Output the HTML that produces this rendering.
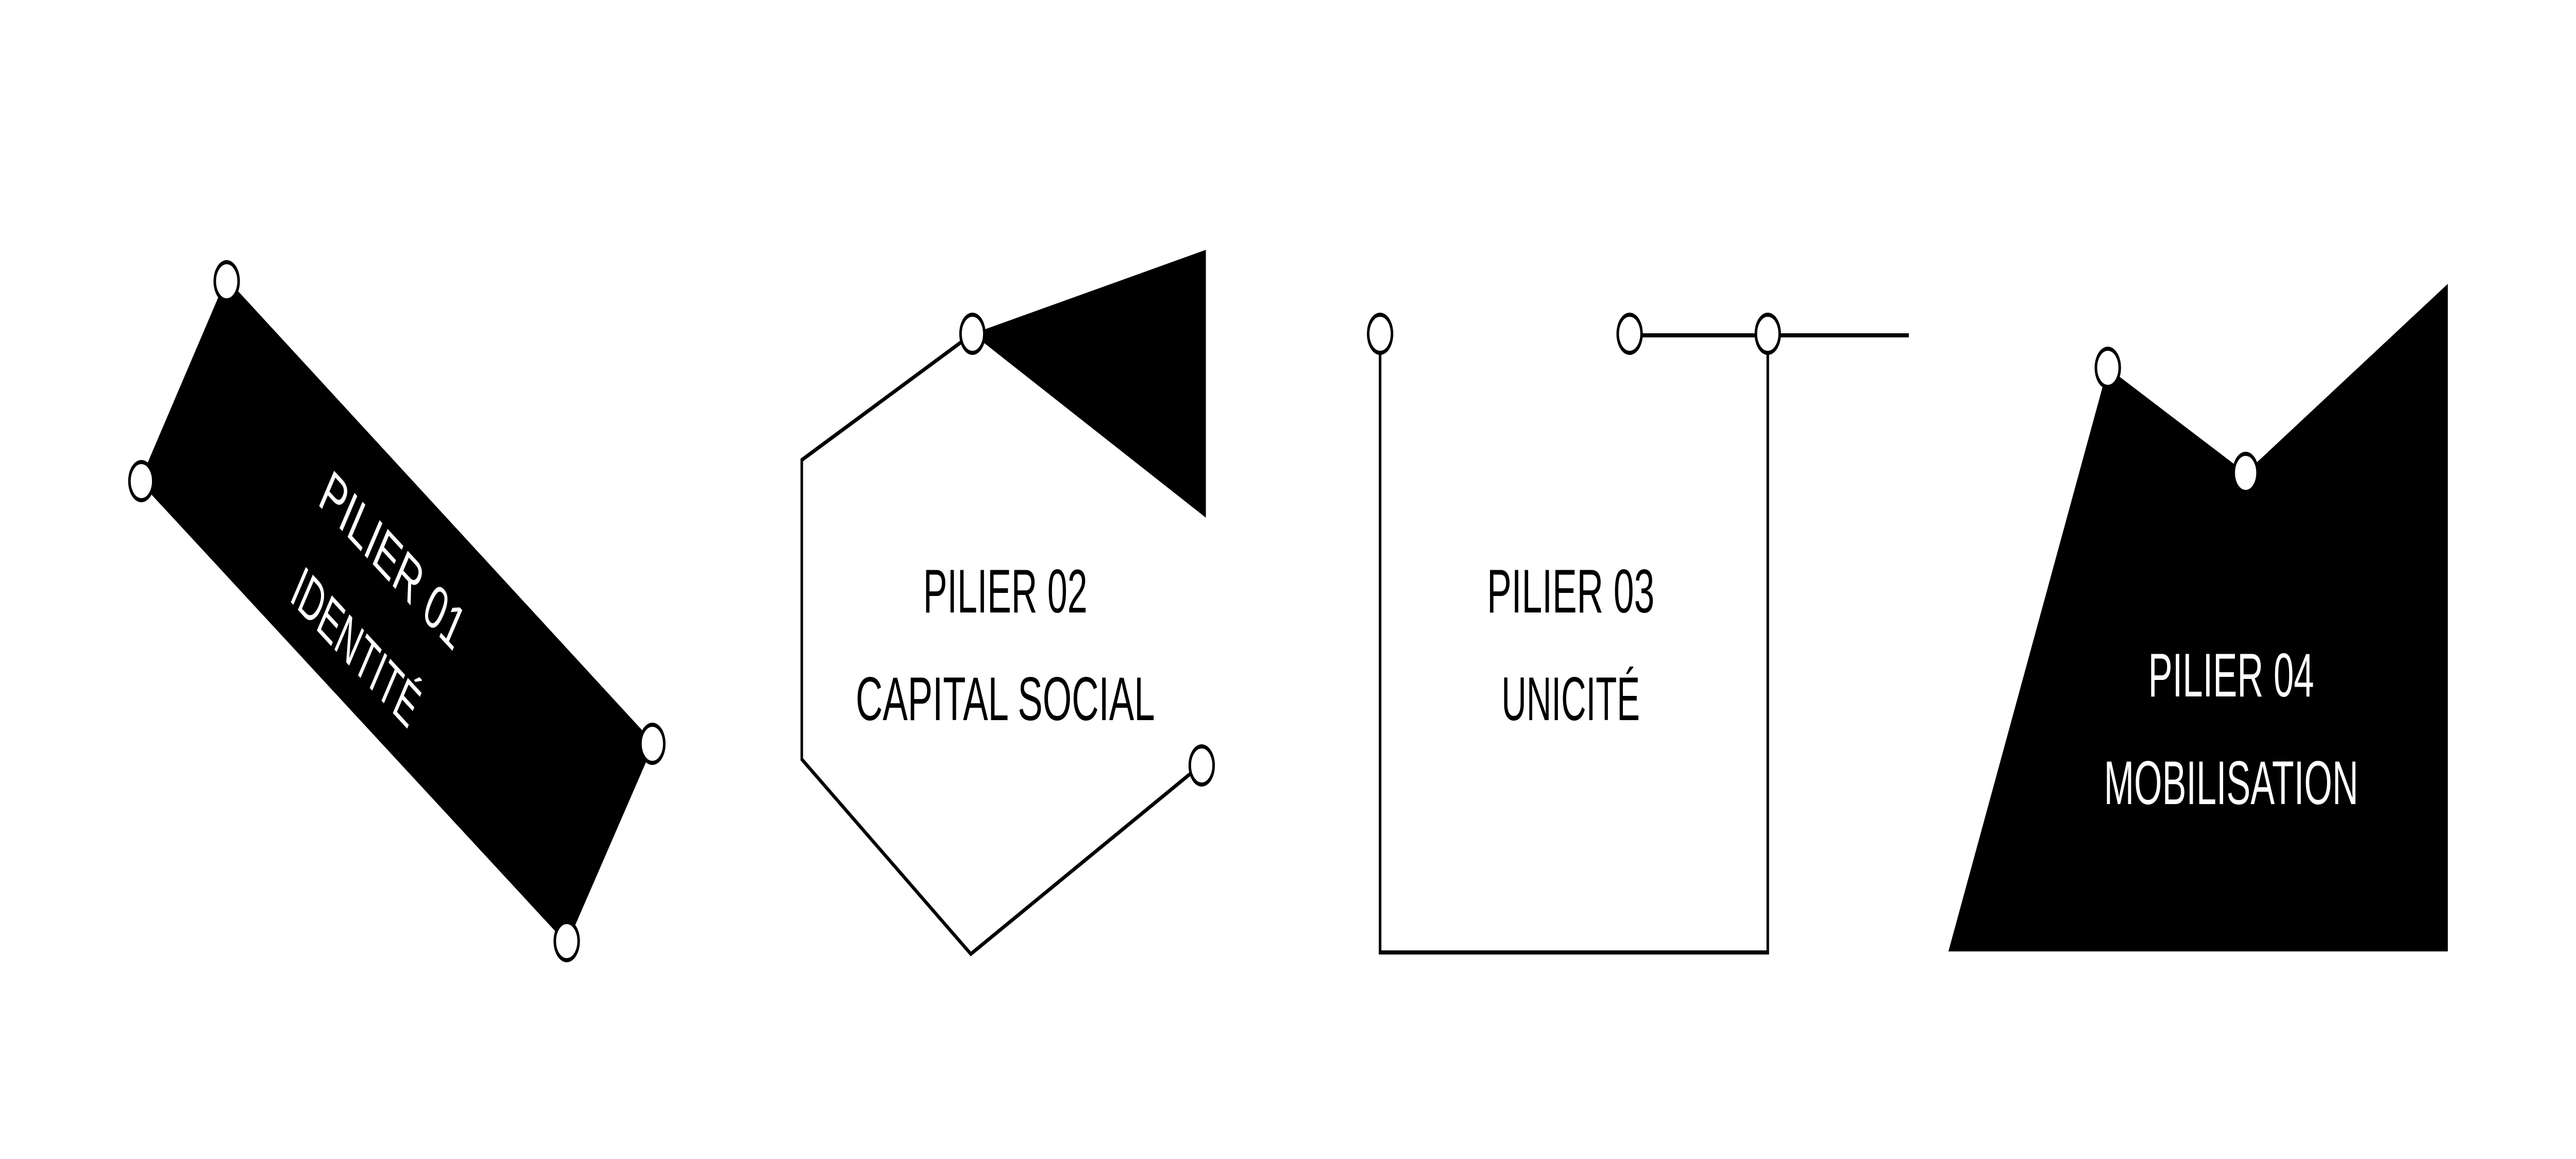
<!DOCTYPE html>
<html><head><meta charset="utf-8"><style>
html,body{margin:0;padding:0;background:#fff;width:100%;height:100%;overflow:hidden;}
svg{display:block;width:100vw;height:100vh;}
text{font-family:"Liberation Sans",sans-serif;font-size:120px;}
</style></head><body>
<svg viewBox="0 0 8000 2250" preserveAspectRatio="none" xmlns="http://www.w3.org/2000/svg">
<rect width="8000" height="2250" fill="#fff"/>
<!-- Shape 1 -->
<polygon points="704,546 2026,1444 1760,1827 439,934" fill="#000" stroke="#000" stroke-width="8"/>
<g transform="translate(1165,1168) rotate(34.2)" fill="#fff" text-anchor="middle">
<text x="0" y="-56" textLength="515" lengthAdjust="spacingAndGlyphs">PILIER 01</text>
<text x="0" y="148" textLength="450" lengthAdjust="spacingAndGlyphs">IDENTITÉ</text>
</g>
<g fill="#fff" stroke="#000" stroke-width="8">
<circle cx="704" cy="546" r="37"/><circle cx="439" cy="934" r="37"/>
<circle cx="2026" cy="1444" r="37"/><circle cx="1760" cy="1827" r="37"/>
</g>
<!-- Shape 2 -->
<polygon points="3020,648 3745,485 3745,1005" fill="#000"/>
<polyline points="3020,648 2490,893 2490,1474 3015,1852 3730,1485" fill="none" stroke="#000" stroke-width="8"/>
<g fill="#000" text-anchor="middle">
<text x="3122" y="1189" textLength="510" lengthAdjust="spacingAndGlyphs">PILIER 02</text>
<text x="3122" y="1398" textLength="929" lengthAdjust="spacingAndGlyphs">CAPITAL SOCIAL</text>
</g>
<g fill="#fff" stroke="#000" stroke-width="8">
<circle cx="3020" cy="648" r="37"/><circle cx="3732" cy="1486" r="37"/>
</g>
<!-- Shape 3 -->
<polyline points="4286,648 4286,1849 5490,1849 5490,648" fill="none" stroke="#000" stroke-width="8"/>
<line x1="5061" y1="651" x2="5928" y2="651" stroke="#000" stroke-width="8"/>
<g fill="#000" text-anchor="middle">
<text x="4878" y="1189" textLength="520" lengthAdjust="spacingAndGlyphs">PILIER 03</text>
<text x="4878" y="1398" textLength="430" lengthAdjust="spacingAndGlyphs">UNICITÉ</text>
</g>
<g fill="#fff" stroke="#000" stroke-width="8">
<circle cx="4286" cy="648" r="37"/><circle cx="5061" cy="648" r="37"/><circle cx="5490" cy="648" r="37"/>
</g>
<!-- Shape 4 -->
<polygon points="6546,714 6974,918 7602,551 7602,1847 6051,1847" fill="#000"/>
<g fill="#fff" text-anchor="middle">
<text x="6929" y="1352" textLength="515" lengthAdjust="spacingAndGlyphs">PILIER 04</text>
<text x="6929" y="1561" textLength="790" lengthAdjust="spacingAndGlyphs">MOBILISATION</text>
</g>
<g fill="#fff" stroke="#000" stroke-width="8">
<circle cx="6546" cy="714" r="37"/><circle cx="6974" cy="918" r="37"/>
</g>
</svg>
</body></html>
